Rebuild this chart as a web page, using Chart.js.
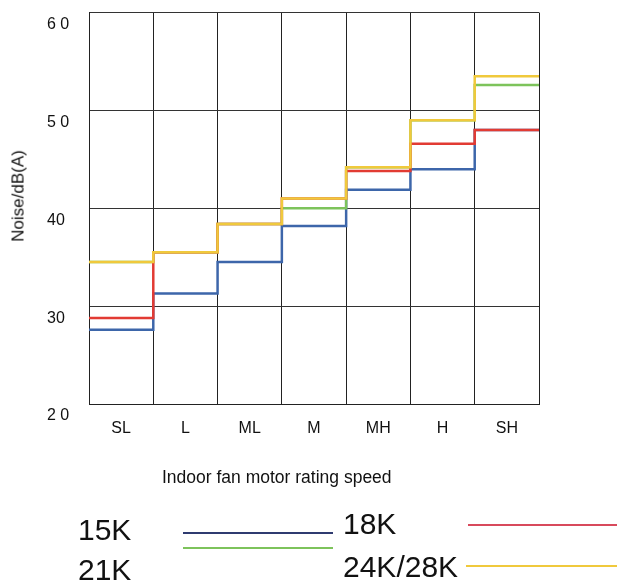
<!DOCTYPE html>
<html>
<head>
<meta charset="utf-8">
<script src="https://cdn.jsdelivr.net/npm/chart.js@4/dist/chart.umd.min.js"></script>
<style>
  body { margin: 0; background: #fff; font-family: "Liberation Sans", Arial, sans-serif; }
  #wrap { position: relative; width: 617px; height: 584px; overflow: hidden; }
  #c { position: absolute; left: 0; top: 0; }
  .txt { position: absolute; color: #111; white-space: nowrap; line-height: 1; }
  .ytitle { left: 18px; top: 196px; font-size: 17px; transform: translate(-50%, -50%) rotate(-90deg); }
  .xtitle { left: 162px; top: 469px; font-size: 17.5px; }
  .leg { font-size: 30px; }
  .legline { position: absolute; height: 2px; }
</style>
</head>
<body>
<div id="wrap">
  <canvas id="c" width="617" height="584"></canvas>
  <div class="txt ytitle">Noise/dB(A)</div>
  <div class="txt xtitle">Indoor fan motor rating speed</div>
  <div id="legend"></div>
</div>
<script>
// fan speeds on the x axis
var speeds = ['SL', 'L', 'ML', 'M', 'MH', 'H', 'SH'];
// y tick labels (the source spaces some of them out)
var yTickLabels = ['2 0', '30', '40', '5 0', '6 0'];

// noise levels dB(A) per speed
var noise15K = [27.6, 31.3, 34.5, 38.2, 41.9, 44.0, 48.0];
var noise18K = [28.8, 35.5, 38.4, 41.0, 43.8, 46.6, 48.0];
var noise21K = [34.5, 35.5, 38.4, 40.0, 44.2, 49.0, 52.6];
var noise2428K = [34.5, 35.5, 38.4, 41.0, 44.2, 49.0, 53.5];

var seriesNames = ['15K', '18K', '21K', '24K/28K'];

// turn one series into step points on the hidden linear axis
function steps(vals) {
  var pts = [];
  for (var i = 0; i < vals.length; i++) {
    pts.push({x: i, y: vals[i]});
  }
  pts.push({x: vals.length, y: vals[vals.length - 1]});
  return pts;
}

function line(label, vals, color) {
  return {
    label: label,
    data: steps(vals),
    xAxisID: 'xs',
    borderColor: color,
    backgroundColor: color,
    borderWidth: 2.5,
    stepped: true,
    pointRadius: 0,
    fill: false
  };
}

// first dataset is painted on top
var chartdata = {
  labels: speeds,
  datasets: [
    line(seriesNames[3], noise2428K, '#f0c93c'),
    line(seriesNames[1], noise18K, '#e23b33'),
    line(seriesNames[2], noise21K, '#7dc35b'),
    line(seriesNames[0], noise15K, '#3d66aa')
  ]
};

var tickFont = {family: '"Liberation Sans", Arial, sans-serif', size: 16};

var ctx = document.getElementById('c');
var noiseChart = new Chart(ctx, {
  type: 'line',
  data: chartdata,
  options: {
    responsive: false,
    animation: false,
    layout: {padding: {left: 47, top: 12, right: 78, bottom: 140}},
    plugins: {legend: {display: false}, tooltip: {enabled: false}},
    scales: {
      x: {
        type: 'category',
        offset: true,
        grid: {offset: true, color: '#222', drawTicks: false},
        border: {color: '#222'},
        ticks: {color: '#111', font: tickFont, padding: 15, maxRotation: 0},
        afterFit: function(s) { s.height = 40; }
      },
      xs: {
        type: 'linear',
        display: false,
        min: 0,
        max: speeds.length
      },
      y: {
        min: 20,
        max: 60,
        grid: {color: '#333', drawTicks: false},
        border: {color: '#222'},
        ticks: {
          stepSize: 10,
          color: '#111',
          font: tickFont,
          crossAlign: 'far',
          labelOffset: 12,
          callback: function(v) { return yTickLabels[(v - 20) / 10]; }
        },
        afterFit: function(s) { s.width = 42; }
      }
    }
  }
});

// legend laid out like the source: name, then a line sample
var legendColors = ['#2f3b70', '#d84a5c', '#7dc35b', '#f0c93c'];
var legendText = [[78, 530], [343, 524], [78, 570], [343, 567]];
var legendLines = [[183, 333, 533], [468, 617, 525], [183, 333, 548], [466, 617, 566]];
var leg = document.getElementById('legend');
for (var i = 0; i < seriesNames.length; i++) {
  var t = document.createElement('div');
  t.className = 'txt leg';
  t.textContent = seriesNames[i];
  t.style.left = legendText[i][0] + 'px';
  t.style.top = (legendText[i][1] - 15) + 'px';
  leg.appendChild(t);
  var l = document.createElement('div');
  l.className = 'legline';
  l.style.left = legendLines[i][0] + 'px';
  l.style.width = (legendLines[i][1] - legendLines[i][0]) + 'px';
  l.style.top = (legendLines[i][2] - 1) + 'px';
  l.style.background = legendColors[i];
  leg.appendChild(l);
}
</script>
</body>
</html>
